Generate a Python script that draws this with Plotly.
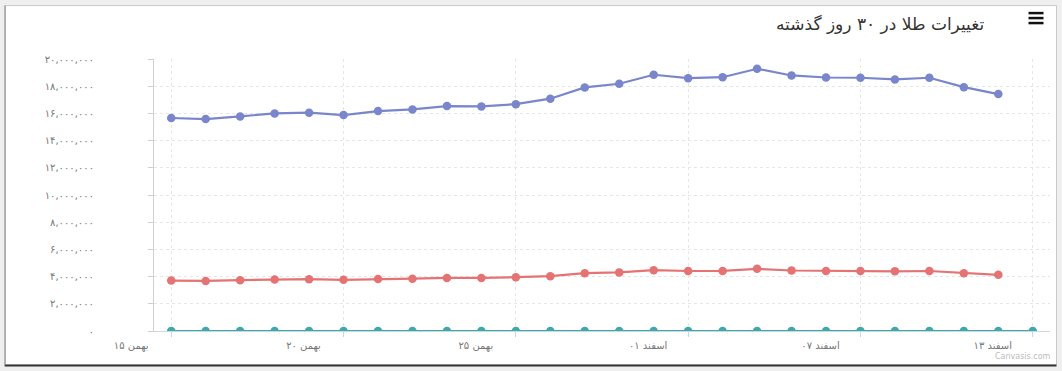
import plotly.graph_objects as go

# ---------------- data ----------------
days = list(range(26))  # day index over the last 30-day window
tick_days = [0, 5, 10, 15, 20, 25]
tick_labels = ["۱۵ بهمن", "۲۰ بهمن", "۲۵ بهمن", "۰۱ اسفند", "۰۷ اسفند", "۱۳ اسفند"]

coin_price = [15.66, 15.58, 15.78, 16.00, 16.05, 15.88, 16.17, 16.29, 16.54, 16.51,
              16.68, 17.08, 17.91, 18.18, 18.84, 18.59, 18.66, 19.28, 18.79, 18.64,
              18.62, 18.50, 18.62, 17.93, 17.42]            # millions
gram_price = [3.71, 3.68, 3.74, 3.78, 3.81, 3.76, 3.83, 3.85, 3.90, 3.90,
              3.96, 4.03, 4.25, 4.31, 4.47, 4.41, 4.42, 4.57, 4.45, 4.42,
              4.41, 4.39, 4.41, 4.25, 4.13]                 # millions
ounce_price = [0] * 26

y_ticks = [0, 2, 4, 6, 8, 10, 12, 14, 16, 18, 20]           # millions

title_text = "تغییرات طلا در ۳۰ روز گذشته"

# ---------------- helpers ----------------
FA = str.maketrans("0123456789", "۰۱۲۳۴۵۶۷۸۹")


def fa_num(v):
    return f"{int(v):,}".translate(FA)


W, H = 1062, 371
L, R, T, B = 153.5, 11.5, 58.5, 40
PW, PH = W - L - R, H - T - B


def px(x):
    return (x - L) / PW


def py(y):
    return (H - B - y) / PH


FONT = "DejaVu Sans"

fig = go.Figure()

series = [
    (coin_price, "#7986CB", "سکه"),
    (gram_price, "#E57373", "طلای ۱۸ عیار"),
    (ounce_price, "#3FA9A5", "انس"),
]
for vals, col, name in series:
    fig.add_trace(go.Scatter(
        x=days[:len(vals)], y=[v * 1_000_000 for v in vals], name=name,
        mode="lines+markers",
        line=dict(color=col, width=2.2),
        marker=dict(color=col, size=8.5),
        showlegend=False,
    ))

fig.update_xaxes(
    range=[-0.5, 25.5],
    tickvals=tick_days, ticktext=tick_labels,
    showgrid=True, gridcolor="#e6e6e6", griddash="dot", gridwidth=1,
    showline=True, linecolor="#ccd6eb", linewidth=1,
    ticks="outside", ticklen=5, tickcolor="#ccd6eb",
    tickfont=dict(family=FONT, size=10, color="#777"),
    ticklabelshift=-40,
    zeroline=False,
)
fig.update_yaxes(
    range=[0, 20_000_000],
    tickvals=[t * 1_000_000 for t in y_ticks],
    ticktext=[fa_num(t * 1_000_000) for t in y_ticks],
    showgrid=True, gridcolor="#e6e6e6", griddash="dot", gridwidth=1,
    showline=True, linecolor="#d0d0d0", linewidth=1,
    ticks="outside", ticklen=5, tickcolor="#d0d0d0",
    tickfont=dict(family=FONT, size=10, color="#777"),
    ticklabelstandoff=52,
    zeroline=False,
)

shapes = [
    # white panel with border
    dict(type="rect", xref="paper", yref="paper", layer="below",
         x0=px(4), x1=px(1057), y0=py(365), y1=py(5),
         fillcolor="white", line=dict(color="#c8c8c8", width=1)),
    dict(type="line", xref="paper", yref="paper",
         x0=px(4), x1=px(1057), y0=py(365.5), y1=py(365.5),
         line=dict(color="#333", width=2)),
    dict(type="line", xref="paper", yref="paper",
         x0=px(4.5), x1=px(4.5), y0=py(365), y1=py(5),
         line=dict(color="#888", width=1)),
]
# hamburger icon
for yy in (12.5, 17.5, 22.5):
    shapes.append(dict(type="line", xref="paper", yref="paper",
                       x0=px(1029), x1=px(1044), y0=py(yy), y1=py(yy),
                       line=dict(color="#111", width=2.5)))

annotations = [
    dict(text=title_text, xref="paper", yref="paper", x=px(986), y=py(23),
         xanchor="right", yanchor="middle", showarrow=False,
         font=dict(family=FONT, size=17, color="#333")),
    dict(text="Canvasis.com", xref="paper", yref="paper", x=px(1054), y=py(357),
         xanchor="right", yanchor="middle", showarrow=False,
         font=dict(family=FONT, size=8, color="#bbb")),
]

fig.update_layout(
    width=W, height=H,
    margin=dict(l=L, r=R, t=T, b=B, pad=0),
    paper_bgcolor="#efefef", plot_bgcolor="rgba(0,0,0,0)",
    shapes=shapes, annotations=annotations,
    showlegend=False,
)

fig.write_html(
    "out.html",
    config={"displayModeBar": False},
    post_script="document.body.style.margin='0';document.body.style.padding='0';",
)
